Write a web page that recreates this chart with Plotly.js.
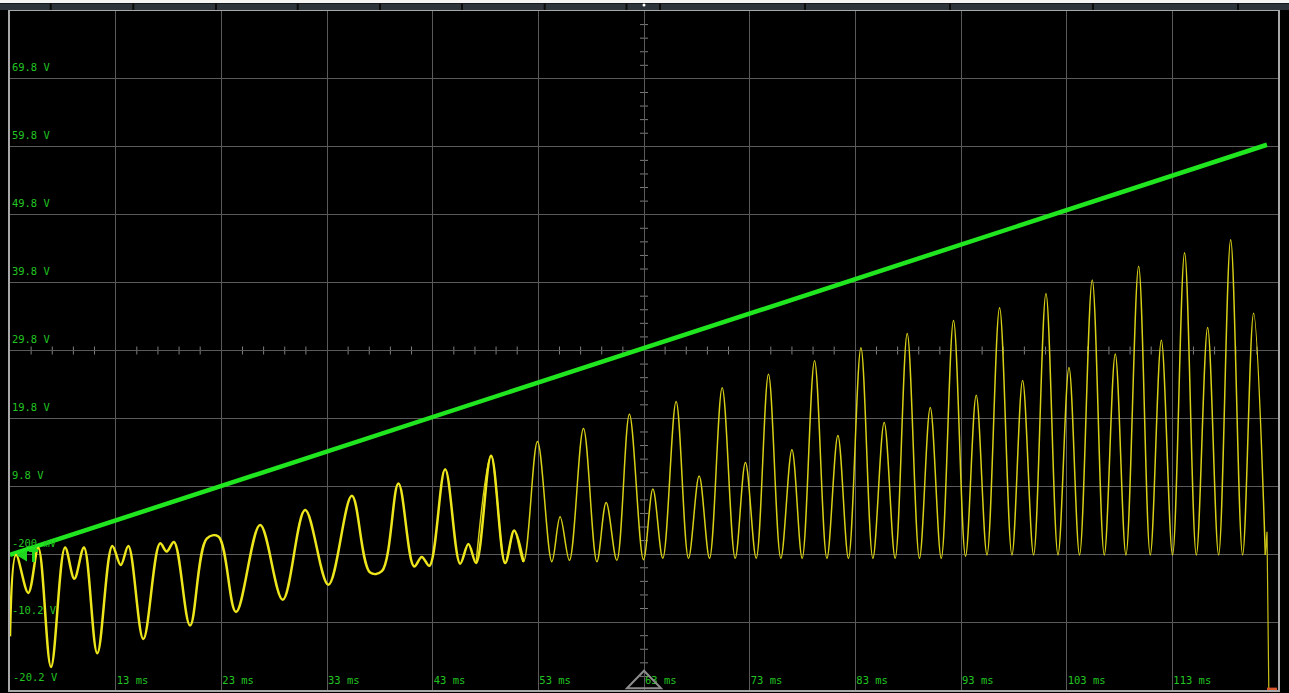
<!DOCTYPE html>
<html>
<head>
<meta charset="utf-8">
<script src="https://cdn.plot.ly/plotly-3.0.1.min.js"></script>
<style>
html,body{margin:0;padding:0;background:#000;}
#chart{width:1289px;height:693px;}
</style>
</head>
<body>
<div id="chart"></div>
<script>
const ch1Time = [3.00, 3.57, 4.73, 5.68, 6.88, 8.21, 9.09, 10.00, 11.26, 12.68,
  13.48, 14.20, 15.62, 17.20, 17.83, 18.52, 20.04, 21.62, 22.72, 24.39,
  26.67, 28.81, 30.93, 33.13, 35.35, 37.08, 38.19, 39.76, 41.24, 41.97,
  42.69, 44.18, 45.60, 46.38, 47.11, 48.53, 49.86, 50.71, 51.59, 52.92,
  54.28, 55.06, 55.94, 57.27, 58.54, 59.42, 60.43, 61.62, 62.95, 63.84,
  64.78, 66.04, 67.21, 68.22, 69.20, 70.40, 71.63, 72.60, 73.62, 74.78,
  75.95, 77.00, 77.97, 79.14, 80.31, 81.35, 82.35, 83.53, 84.66, 85.73,
  86.77, 87.91, 89.07, 90.09, 91.13, 92.29, 93.43, 94.44, 95.46, 96.65,
  97.82, 98.83, 99.87, 101.04, 102.18, 103.22, 104.22, 105.42, 106.56, 107.60,
  108.61, 109.81, 110.91, 111.96, 113.02, 114.16, 115.27, 116.34, 117.38, 118.52,
  119.65, 120.69, 121.80];
const ch1Volt = [-12.3, -0.3, -5.9, 0.7, -16.8, 0.8, -3.8, 0.8, -14.8, 1.0,
  -1.8, 1.0, -12.7, 1.4, 0.2, 1.6, -10.7, 2.1, 2.4, -8.7,
  4.1, -6.9, 6.3, -4.7, 8.4, -2.9, -2.7, 10.2, -2.0, -0.6,
  -1.9, 12.3, -1.6, 1.3, -1.5, 14.3, -1.5, 3.3, -1.3, 16.4,
  -1.3, 5.3, -1.1, 18.3, -1.3, 7.4, -1.1, 20.4, -1.0, 9.4,
  -0.8, 22.3, -0.8, 11.3, -0.8, 24.3, -0.8, 13.3, -0.8, 26.3,
  -0.8, 15.2, -0.8, 28.3, -0.8, 17.3, -0.8, 30.2, -0.8, 19.2,
  -0.8, 32.3, -0.8, 21.4, -0.8, 34.2, -0.5, 23.2, -0.3, 36.1,
  -0.3, 25.4, -0.3, 38.2, -0.3, 27.3, -0.3, 40.2, -0.3, 29.3,
  -0.3, 42.2, -0.3, 31.3, -0.3, 44.2, -0.3, 33.2, -0.3, 46.1,
  -0.3, 35.3, -0.3];
// end of record: short rise then drop to the bottom of the screen
const ch1TailTime = [121.80, 121.96, 122.13];
const ch1TailVolt = [-0.3, 3.1, -20.2];

// Channel 2 (green ramp)
const ch2Time = [3.0, 33.0, 63.0, 93.0, 121.96];
const ch2Volt = [-0.3, 14.9, 30.1, 45.3, 60.1];

// Axis tick labels
const xTickVals = [13, 23, 33, 43, 53, 63, 73, 83, 93, 103, 113];
const xTickText = ['13 ms', '23 ms', '33 ms', '43 ms', '53 ms', '63 ms', '73 ms', '83 ms', '93 ms', '103 ms', '113 ms'];
const yTickVals = [-20.2, -10.2, -0.2, 9.8, 19.8, 29.8, 39.8, 49.8, 59.8, 69.8];
const yTickText = ['-20.2 V', '-10.2 V', '-200 mV', '9.8 V', '19.8 V', '29.8 V', '39.8 V', '49.8 V', '59.8 V', '69.8 V'];

const GREEN_TXT = '#22c422';
const GRID = '#5a5a5a';
const TXT_FONT = {family: 'DejaVu Sans Mono', size: 10.5, color: GREEN_TXT};

// the early (slow) part of channel 1 is drawn brighter/thicker, as on the scope screen;
// the two pieces overlap over a few extrema so the hand-over is not visible
const earlyEnd = 38, lateStart = 34;
const traces = [
  {x: ch2Time, y: ch2Volt, type: 'scatter', mode: 'lines',
   line: {color: '#20e620', width: 4.5}, hoverinfo: 'skip'},
  {x: ch1Time.slice(lateStart), y: ch1Volt.slice(lateStart), type: 'scatter', mode: 'lines',
   line: {color: '#d8d016', width: 1.5, shape: 'spline', smoothing: 1}, hoverinfo: 'skip'},
  {x: ch1Time.slice(0, earlyEnd + 1), y: ch1Volt.slice(0, earlyEnd + 1), type: 'scatter', mode: 'lines',
   line: {color: '#eee61c', width: 2.5, shape: 'spline', smoothing: 1}, hoverinfo: 'skip'},
  {x: ch1TailTime, y: ch1TailVolt, type: 'scatter', mode: 'lines',
   line: {color: '#c8c018', width: 1.2}, hoverinfo: 'skip'}
];

// paper coordinate helpers for the frame outside the graticule (plot 10..1278 x 11..690 px)
const px = v => (v - 10) / 1268;
const py = v => (690 - v) / 679;

const shapes = [];
// top strip
shapes.push({type: 'rect', xref: 'paper', yref: 'paper', x0: px(0), x1: px(1289), y0: py(3), y1: py(0), fillcolor: '#f4f4f4', line: {width: 0}, layer: 'above'});
shapes.push({type: 'rect', xref: 'paper', yref: 'paper', x0: px(0), x1: px(1289), y0: py(10), y1: py(3.5), fillcolor: '#2c333b', line: {width: 0}, layer: 'above'});
const seps = [50.7, 133.3, 216, 297.7, 380, 462, 544.7, 626.5, 660, 805, 950, 1093, 1238];
seps.forEach(s => shapes.push({type: 'rect', xref: 'paper', yref: 'paper', x0: px(s - 1), x1: px(s + 1), y0: py(10), y1: py(3.5), fillcolor: '#0a0a0a', line: {width: 0}, layer: 'above'}));
shapes.push({type: 'circle', xref: 'paper', yref: 'paper', x0: px(642.5), x1: px(645.5), y0: py(6.5), y1: py(3.5), fillcolor: '#ffffff', line: {width: 0}, layer: 'above'});

// minor ticks on the centre cross
for (let k = 1; k < 50; k++) {
  if (k % 5 === 0) continue;
  const v = -20.2 + 2 * k;
  shapes.push({type: 'line', xref: 'x', yref: 'y', xsizemode: 'pixel', xanchor: 63, x0: -4, x1: 4, y0: v, y1: v, line: {color: '#7c7c7c', width: 1}, layer: 'below'});
}
for (let k = 1; k < 60; k++) {
  if (k % 5 === 0) continue;
  const t = 3 + 2 * k;
  shapes.push({type: 'line', xref: 'x', yref: 'y', ysizemode: 'pixel', yanchor: 29.8, y0: -4, y1: 4, x0: t, x1: t, line: {color: '#7c7c7c', width: 1}, layer: 'below'});
}

// channel markers
shapes.push({type: 'path', xref: 'x', yref: 'y', xsizemode: 'pixel', xanchor: 3, ysizemode: 'pixel', yanchor: 29.8, path: 'M-8,-6.5 L-1,0 L-8,6.5 Z', fillcolor: '#1fd61f', line: {width: 0}, layer: 'above'});
shapes.push({type: 'path', xref: 'x', yref: 'y', xsizemode: 'pixel', xanchor: 3, ysizemode: 'pixel', yanchor: -0.25, path: 'M-10,-7.5 L0,0 L-10,7.5 Z', fillcolor: '#1fd61f', line: {width: 0}, layer: 'above'});
shapes.push({type: 'path', xref: 'x', yref: 'y', xsizemode: 'pixel', xanchor: 123, ysizemode: 'pixel', yanchor: -0.25, path: 'M11,-10 L0,0 L11,10 Z', fillcolor: '#1fd61f', line: {width: 0}, layer: 'above'});
shapes.push({type: 'path', xref: 'x', yref: 'y', xsizemode: 'pixel', xanchor: 3, ysizemode: 'pixel', yanchor: -0.4, path: 'M17,-6 L7,0 L17,6 Z', fillcolor: '#1fd61f', line: {width: 0}, layer: 'above'});
shapes.push({type: 'rect', xref: 'x', yref: 'y', xsizemode: 'pixel', xanchor: 3, x0: 19, x1: 28, y0: 0.12, y1: 0.57, fillcolor: '#1fd61f', line: {width: 0}, layer: 'above'});
shapes.push({type: 'rect', xref: 'x', yref: 'y', xsizemode: 'pixel', xanchor: 3, x0: 22, x1: 25, y0: -1.35, y1: 0.57, fillcolor: '#1fd61f', line: {width: 0}, layer: 'above'});
// trigger position marker
shapes.push({type: 'path', xref: 'x', yref: 'y', xsizemode: 'pixel', xanchor: 63, path: 'M-17,-19.95 L0,-17.36 L17,-19.95 Z', fillcolor: 'rgba(0,0,0,0)', line: {color: '#8c8c8c', width: 2}, layer: 'above'});
// record end marker
shapes.push({type: 'rect', xref: 'x', yref: 'y', xsizemode: 'pixel', xanchor: 123, x0: -11, x1: -1, y0: -20.2, y1: -19.85, fillcolor: '#d9572b', line: {width: 0}, layer: 'above'});

const layout = {
  width: 1289, height: 693,
  margin: {l: 10, r: 11, t: 11, b: 3, pad: 0},
  paper_bgcolor: '#000000', plot_bgcolor: '#000000',
  showlegend: false,
  xaxis: {
    range: [3, 123], tickvals: xTickVals, ticktext: xTickText,
    ticklabelposition: 'inside right', ticks: '',
    tickfont: TXT_FONT,
    showgrid: true, gridcolor: GRID, gridwidth: 1, zeroline: false,
    showline: true, mirror: true, linecolor: '#a8a8a8', linewidth: 2, fixedrange: true
  },
  yaxis: {
    range: [-20.2, 79.8], tickvals: yTickVals, ticktext: yTickText,
    ticklabelposition: 'inside top', ticklabelshift: -4, ticks: '',
    tickfont: TXT_FONT,
    showgrid: true, gridcolor: GRID, gridwidth: 1, zeroline: false,
    showline: true, mirror: true, linecolor: '#a8a8a8', linewidth: 2, fixedrange: true
  },
  annotations: [
    {xref: 'paper', yref: 'y', x: 0, y: yTickVals[0], xanchor: 'left', yanchor: 'bottom',
     xshift: 1, yshift: 5, showarrow: false, text: yTickText[0], font: TXT_FONT}
  ],
  shapes: shapes
};

Plotly.newPlot('chart', traces, layout, {displayModeBar: false, staticPlot: true});
</script>
</body>
</html>
